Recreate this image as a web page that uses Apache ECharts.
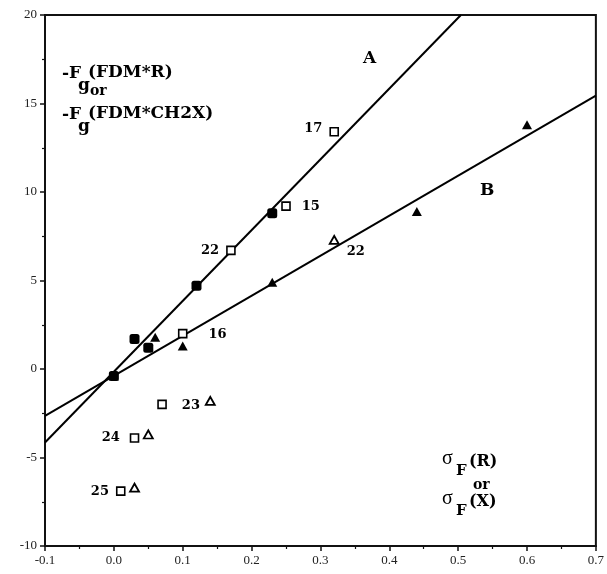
<!DOCTYPE html>
<html>
<head>
<meta charset="utf-8">
<script src="https://cdn.jsdelivr.net/npm/echarts@6/dist/echarts.min.js"></script>
<style>
  html, body { margin: 0; background: #fff; }
  #chart { width: 607px; height: 574px; }
</style>
</head>
<body>
<div id="chart"></div>
<script>
// axis ranges
const xRange = [-0.1, 0.7]
const yRange = [-10, 20]

// filled points on line A (squares) and line B (triangles)
const filledSquares = [[0.0, -0.4], [0.03, 1.7], [0.05, 1.2], [0.12, 4.7], [0.23, 8.8]]
const filledTriangles = [[0.0, -0.4], [0.06, 1.8], [0.1, 1.3], [0.23, 4.9], [0.44, 8.9], [0.6, 13.8]]

// open squares with compound numbers
const openSquares = [[0.32, 13.4], [0.25, 9.2], [0.17, 6.7], [0.1, 2.0], [0.07, -2.0], [0.03, -3.9], [0.01, -6.9]]
const openSquareNames = ['17', '15', '22', '16', '23', '24', '25']

// open triangles
const openTriangles = [[0.32, 7.3], [0.14, -1.8], [0.05, -3.7], [0.03, -6.7]]
const openTriangleNames = ['22', '', '', '']

// fitted lines (end points)
const lineA = [[-0.1, -4.15], [0.504, 20]]
const lineB = [[-0.1, -2.65], [0.7, 15.45]]

const chart = echarts.init(document.getElementById('chart'))

const serif = 'Liberation Serif'
const bold = 'DejaVu Serif'

// where each number label sits relative to its marker
const sqLabelPos = {
  '17': ['left', [-2, -3]],
  '15': ['right', [6, 0]],
  '22': ['left', [-2, 0]],
  '16': ['right', [16, 1]],
  '23': ['right', [10, 1]],
  '24': ['left', [-5, 0]],
  '25': ['left', [-2, 0]],
}

const labelStyle = { color: '#000', fontFamily: bold, fontWeight: 'bold', fontSize: 13 }

const sqData = openSquares.map((p, i) => {
  const n = openSquareNames[i]
  const pos = sqLabelPos[n]
  return {
    value: p,
    label: { show: true, formatter: n, position: pos[0], offset: pos[1], ...labelStyle },
  }
})

const triData = openTriangles.map((p, i) => {
  const n = openTriangleNames[i]
  return {
    value: p,
    label: { show: !!n, formatter: n, position: 'right', offset: [2, 12], ...labelStyle },
  }
})

function txt(x, y, text, size, weight, family) {
  return {
    type: 'text', left: x, top: y,
    style: { text: text, fontSize: size, fontWeight: weight || 'bold', fontFamily: family || bold, fill: '#000' },
  }
}

const option = {
  backgroundColor: '#fff',
  animation: false,
  grid: {
    left: 45, right: 11, top: 15, bottom: 28,
    show: true, borderColor: '#111', borderWidth: 2, backgroundColor: 'transparent',
  },
  xAxis: {
    type: 'value', min: xRange[0], max: xRange[1], interval: 0.1,
    axisLine: { show: true, onZero: false, lineStyle: { color: '#111', width: 2 } },
    axisTick: { show: true, length: 5, lineStyle: { color: '#111', width: 1.5 } },
    minorTick: { show: true, splitNumber: 2, length: 3, lineStyle: { color: '#111', width: 1.2 } },
    splitLine: { show: false },
    axisLabel: {
      color: '#222', fontFamily: serif, fontSize: 13, margin: 8,
      formatter: (v) => v.toFixed(1),
    },
  },
  yAxis: {
    type: 'value', min: yRange[0], max: yRange[1], interval: 5,
    axisLine: { show: true, onZero: false, lineStyle: { color: '#111', width: 2 } },
    axisTick: { show: true, length: 5, lineStyle: { color: '#111', width: 1.5 } },
    minorTick: { show: true, splitNumber: 2, length: 3, lineStyle: { color: '#111', width: 1.2 } },
    splitLine: { show: false },
    axisLabel: { color: '#222', fontFamily: serif, fontSize: 13, margin: 8 },
  },
  series: [
    {
      type: 'line', data: lineA, symbol: 'none', silent: true,
      lineStyle: { color: '#000', width: 2 }, z: 2,
    },
    {
      type: 'line', data: lineB, symbol: 'none', silent: true,
      lineStyle: { color: '#000', width: 2 }, z: 2,
    },
    {
      type: 'scatter', data: filledTriangles, symbol: 'triangle', symbolSize: [10, 9],
      itemStyle: { color: '#000', opacity: 1 }, z: 3,
    },
    {
      type: 'scatter', data: filledSquares, symbol: 'roundRect', symbolSize: 10,
      itemStyle: { color: '#000', opacity: 1 }, z: 4,
    },
    {
      type: 'scatter', data: sqData, symbol: 'rect', symbolSize: 8,
      itemStyle: { color: '#fff', borderColor: '#000', borderWidth: 1.6, opacity: 1 }, z: 4,
    },
    {
      type: 'scatter', data: triData, symbol: 'triangle', symbolSize: [9, 8],
      itemStyle: { color: '#fff', borderColor: '#000', borderWidth: 1.8, opacity: 1 }, z: 4,
    },
  ],
  graphic: [
    txt(363, 50, 'A', 17),
    txt(480, 182, 'B', 17),
    // y quantity
    txt(62, 65, '-F', 17),
    txt(78, 77, 'g', 17),
    txt(88, 64, '(FDM*R)', 17),
    txt(90, 84, 'or', 14),
    txt(62, 106, '-F', 17),
    txt(78, 118, 'g', 17),
    txt(88, 105, '(FDM*CH2X)', 17),
    // x quantity
    txt(442, 449, 'σ', 20, 'normal', serif),
    txt(456, 464, 'F', 15),
    txt(469, 454, '(R)', 16),
    txt(473, 478, 'or', 14),
    txt(442, 489, 'σ', 20, 'normal', serif),
    txt(456, 504, 'F', 15),
    txt(469, 494, '(X)', 16),
  ],
}

chart.setOption(option)
</script>
</body>
</html>
